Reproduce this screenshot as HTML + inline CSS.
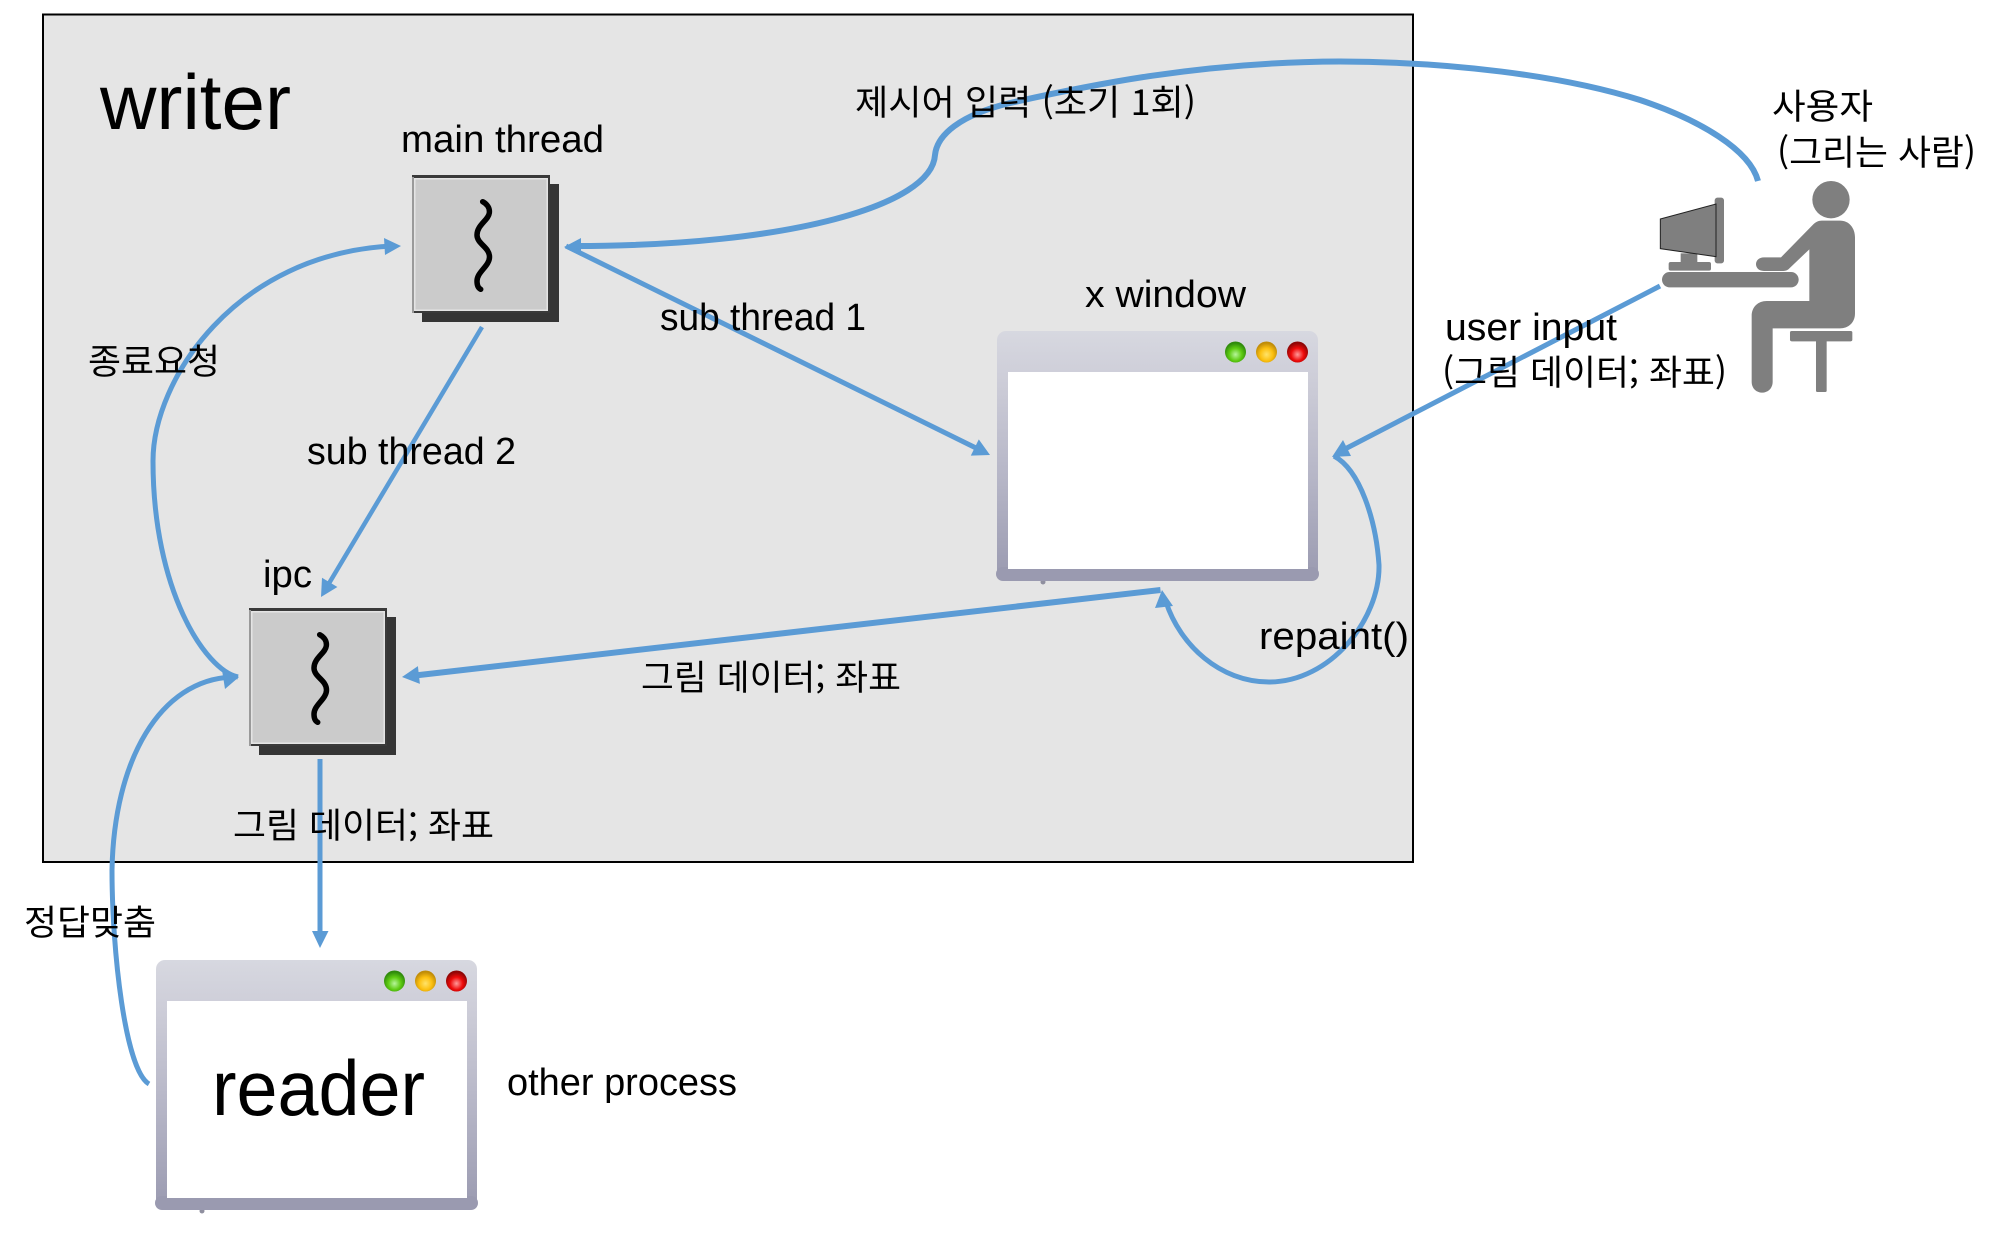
<!DOCTYPE html>
<html lang="ko">
<head>
<meta charset="utf-8">
<title>writer / reader diagram</title>
<style>
html,body{margin:0;padding:0;background:#fff;width:2004px;height:1246px;overflow:hidden}
svg{display:block}
text{font-family:"Liberation Sans","Noto Sans CJK KR",sans-serif;fill:#000;font-size:38px}
.ko{font-family:"Noto Sans CJK KR","Liberation Sans",sans-serif;font-size:35px}
.ln{fill:none;stroke:#5b9bd5;stroke-width:5;stroke-linecap:butt}
.hd{fill:#5b9bd5}
</style>
</head>
<body>
<svg width="2004" height="1246" viewBox="0 0 2004 1246" xmlns="http://www.w3.org/2000/svg">
<defs>
<linearGradient id="win" x1="0" y1="0" x2="0" y2="1">
<stop offset="0" stop-color="#d7d8e0"/>
<stop offset=".2" stop-color="#cdcdd8"/>
<stop offset=".6" stop-color="#b5b5c6"/>
<stop offset="1" stop-color="#9a9ab0"/>
</linearGradient>
<radialGradient id="g" cx=".5" cy=".62" r=".55"><stop offset="0" stop-color="#b6f59a"/><stop offset=".55" stop-color="#5ecb12"/><stop offset="1" stop-color="#2f8a0c"/></radialGradient>
<radialGradient id="y" cx=".5" cy=".62" r=".55"><stop offset="0" stop-color="#ffe36a"/><stop offset=".55" stop-color="#fcc010"/><stop offset="1" stop-color="#c08c08"/></radialGradient>
<radialGradient id="r" cx=".5" cy=".62" r=".55"><stop offset="0" stop-color="#ff9a9a"/><stop offset=".55" stop-color="#ee0a0a"/><stop offset="1" stop-color="#8e0606"/></radialGradient>
<g id="window">
<circle cx="46" cy="251" r="2.5" fill="#8f8f9f"/>
<rect x="0" y="0" width="321" height="249" rx="9" fill="url(#win)"/>
<rect x="-1" y="236" width="323" height="14" rx="7" fill="#9a9ab0"/>
<rect x="11" y="41" width="300" height="197" fill="#fff"/>
<circle cx="238.500" cy="21" r="10.500" fill="url(#g)"/>
<circle cx="269.500" cy="21" r="10.500" fill="url(#y)"/>
<circle cx="300.500" cy="21" r="10.500" fill="url(#r)"/>
</g>
<g id="thread">
<rect x="10" y="9" width="137" height="138" fill="#353535"/>
<rect x="0" y="0" width="138" height="138" fill="#3a3a3a"/>
<rect x="0" y="2" width="2" height="136" fill="#9a9a9a"/>
<rect x="2" y="3" width="134" height="133" fill="#e4e4e4"/>
<rect x="3.500" y="4.500" width="131" height="130" fill="#cbcbcb"/>
<path d="M70.700 26.700 C75 29 78 33 77.300 38 C76.500 45 65 50 65 60 C65 69 77.500 72 77.500 82 C77.500 91 65 97 65 106 C65 110 66 113 68.700 114.300" fill="none" stroke="#000" stroke-width="5.500" stroke-linecap="round"/>
</g>
</defs>

<rect x="43" y="14.500" width="1370" height="847.500" fill="#e5e5e5" stroke="#000" stroke-width="2"/>

<use href="#thread" x="412" y="175"/>
<use href="#thread" x="249" y="608"/>
<use href="#window" x="997" y="331"/>
<use href="#window" x="156" y="960"/>

<!-- person -->
<g transform="translate(1640,160) scale(.33333)" fill="#7f7f7f">
<circle cx="573" cy="119" r="56"/>
<rect x="224" y="113" width="28" height="197" rx="8"/>
<rect x="122" y="280" width="50" height="32"/>
<rect x="86" y="306" width="127" height="26" rx="6"/>
<polygon points="61,177 228,132 228,290 61,266" stroke="#222" stroke-width="3"/>
<rect x="66" y="336" width="410" height="46" rx="23"/>
<path d="M545 182 H600 C628 182 645 205 645 232 V460 C645 488 625 505 600 505 H398 V665 C398 709 335 709 335 665 V468 C335 440 355 423 380 423 H508 V268 L445 328 C440 332 432 333 425 333 H372 C340 333 340 292 372 292 H423 L518 195 C526 187 535 182 545 182 Z"/>
<rect x="450" y="513" width="187" height="31" rx="5"/>
<rect x="528" y="540" width="32" height="156" rx="4"/>
</g>

<!-- connectors -->
<path class="ln" style="stroke-width:6" d="M1758 181 C1750 150 1700 120 1640 100 C1560 75 1450 62 1340 61.500 C1200 62 1090 85 1010 103 C960 115 937 135 935 155 C932 205 790 246 575 246"/>
<polygon class="hd" points="564,247 581,238 581,256"/>

<path class="ln" d="M566 246 L978 449"/>
<polygon class="hd" points="990,455 970.800,455.600 978.800,439.400"/>

<path class="ln" style="stroke-width:4.500" d="M482 327 L328 585"/>
<polygon class="hd" points="321,597 337.400,587 322,577.800"/>

<path class="ln" style="stroke-width:6" d="M1160.500 590 L415 675.500"/>
<polygon class="hd" points="402,677 419.900,683.900 417.900,666.100"/>

<path class="ln" d="M1660 286 L1345 449"/>
<polygon class="hd" points="1332,457 1351,456 1343,440"/>

<path class="ln" d="M1334 456 C1360 470 1376 520 1379 565 C1380 620 1330 682 1269 682 C1220 682 1180 645 1166 602"/>
<polygon class="hd" points="1162,590 1155,608 1173,606"/>

<path class="ln" d="M238 677 C205 670 153 590 153 461 C153 380 235 254 392 246"/>
<polygon class="hd" points="401,246 384,238 385,255"/>

<path class="ln" d="M149 1084 C125 1070 112 950 112 870 C114 760 160 680 232 677"/>
<polygon class="hd" points="239,677 222,670 225,689"/>

<path class="ln" d="M320 759 V935"/>
<polygon class="hd" points="320,948 312,931 328.500,931"/>

<!-- labels -->
<text x="100" y="129" style="font-size:78px" textLength="191" lengthAdjust="spacingAndGlyphs">writer</text>
<text x="401" y="152" textLength="203" lengthAdjust="spacingAndGlyphs">main thread</text>
<text x="660" y="330" textLength="206" lengthAdjust="spacingAndGlyphs">sub thread 1</text>
<text x="307" y="464" textLength="209" lengthAdjust="spacingAndGlyphs">sub thread 2</text>
<text x="263" y="587" textLength="49" lengthAdjust="spacingAndGlyphs">ipc</text>
<text class="ko" x="88" y="374" textLength="132" lengthAdjust="spacingAndGlyphs">종료요청</text>
<text class="ko" x="855" y="115" textLength="341" lengthAdjust="spacingAndGlyphs">제시어 입력 (초기 1회)</text>
<text x="1085" y="307" textLength="161" lengthAdjust="spacingAndGlyphs">x window</text>
<text class="ko" x="1772" y="119" textLength="101" lengthAdjust="spacingAndGlyphs">사용자</text>
<text class="ko" x="1777" y="165" textLength="199" lengthAdjust="spacingAndGlyphs">(그리는 사람)</text>
<text x="1445" y="340" textLength="172" lengthAdjust="spacingAndGlyphs">user input</text>
<text class="ko" x="1442" y="385" textLength="285" lengthAdjust="spacingAndGlyphs">(그림 데이터; 좌표)</text>
<text x="1259" y="649" textLength="150" lengthAdjust="spacingAndGlyphs">repaint()</text>
<text class="ko" x="641" y="690" textLength="260" lengthAdjust="spacingAndGlyphs">그림 데이터; 좌표</text>
<text class="ko" x="233" y="838" textLength="261" lengthAdjust="spacingAndGlyphs">그림 데이터; 좌표</text>
<text class="ko" x="24" y="935" textLength="132" lengthAdjust="spacingAndGlyphs">정답맞춤</text>
<text x="212" y="1115" style="font-size:78px" textLength="213" lengthAdjust="spacingAndGlyphs">reader</text>
<text x="507" y="1095" textLength="230" lengthAdjust="spacingAndGlyphs">other process</text>
</svg>
</body>
</html>
